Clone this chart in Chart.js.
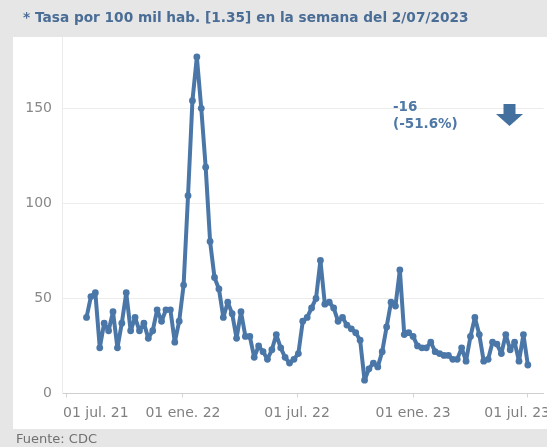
<!DOCTYPE html>
<html><head><meta charset="utf-8">
<script src="https://cdn.jsdelivr.net/npm/chart.js@4.4.1/dist/chart.umd.min.js"></script>
<style>html,body{margin:0;padding:0;background:#e6e6e6;} canvas{display:block}</style>
</head><body>
<canvas id="c" width="547" height="447"></canvas>
<script>
// ---- data ----
const firstWeek = '2021-08-01';
const rate = [
  40, 51, 53, 24, 37, 33, 43, 24, 37, 53,
  33, 40, 33, 37, 29, 33, 44, 38, 44, 44,
  27, 38, 57, 104, 154, 177, 150, 119, 80, 61,
  55, 40, 48, 42, 29, 43, 30, 30, 19, 25,
  22, 18, 23, 31, 24, 19, 16, 18, 21, 38,
  40, 45, 50, 70, 47, 48, 45, 38, 40, 36,
  34, 32, 28, 7, 13, 16, 14, 22, 35, 48,
  46, 65, 31, 32, 30, 25, 24, 24, 27, 22,
  21, 20, 20, 18, 18, 24, 17, 30, 40, 31,
  17, 18, 27, 26, 21, 31, 23, 27, 17, 31,
  15
];
const xTickDates = ['2021-07-01', '2022-01-01', '2022-07-01', '2023-01-01', '2023-07-01'];
const xTickLabels = ['01 jul. 21', '01 ene. 22', '01 jul. 22', '01 ene. 23', '01 jul. 23'];
const yTickValues = [0, 50, 100, 150];
const titleText = '* Tasa por 100 mil hab. [1.35] en la semana del 2/07/2023';
const sourceText = 'Fuente: CDC';
const changeLines = ['-16', '(-51.6%)'];

// ---- helpers ----
const DAY = 86400000;
const ORIGIN = Date.UTC(2021, 6, 1);
function dayOf(s) { const p = s.split('-').map(Number); return (Date.UTC(p[0], p[1] - 1, p[2]) - ORIGIN) / DAY; }
const weekDays = rate.map((_, i) => dayOf(firstWeek) + 7 * i);
const points = rate.map((v, i) => ({ x: weekDays[i], y: v }));

const FONT = '"DejaVu Sans", sans-serif';
const BLUE = '#4a77a8';

const decor = {
  id: 'decor',
  beforeDraw(chart) {
    const c = chart.ctx;
    c.save();
    c.fillStyle = '#e6e6e6';
    c.fillRect(0, 0, chart.width, chart.height);
    c.fillStyle = '#ffffff';
    c.fillRect(13, 37, chart.width - 13, 392);
    c.restore();
  },
  afterDraw(chart) {
    const c = chart.ctx;
    const xs = chart.scales.x;
    c.save();
    // title
    c.font = 'bold 13.7px ' + FONT;
    c.fillStyle = '#4a6d96';
    c.textBaseline = 'middle';
    c.textAlign = 'left';
    c.fillText(titleText, 23, 18);
    // source
    c.font = '13px ' + FONT;
    c.fillStyle = '#707070';
    c.fillText(sourceText, 16, 439.5);
    // x tick labels
    c.font = '14px ' + FONT;
    c.fillStyle = '#808080';
    xTickDates.forEach((d, i) => {
      const px = xs.getPixelForValue(dayOf(d));
      const w = c.measureText(xTickLabels[i]).width;
      let left = px - w / 2;
      left = Math.max(left, 63);
      left = Math.min(left, 550 - w);
      c.fillText(xTickLabels[i], left, 413);
    });
    // change annotation
    c.font = 'bold 13.5px ' + FONT;
    c.fillStyle = '#4f78a6';
    c.fillText(changeLines[0], 393, 107);
    c.fillText(changeLines[1], 393, 124);
    // arrow
    c.fillStyle = '#44709f';
    c.beginPath();
    c.moveTo(503.5, 104);
    c.lineTo(515.5, 104);
    c.lineTo(515.5, 114);
    c.lineTo(523, 114);
    c.lineTo(509.5, 126);
    c.lineTo(496, 114);
    c.lineTo(503.5, 114);
    c.closePath();
    c.fill();
    c.restore();
  }
};

new Chart(document.getElementById('c').getContext('2d'), {
  type: 'line',
  data: {
    datasets: [{
      data: points,
      borderColor: BLUE,
      backgroundColor: BLUE,
      borderWidth: 4,
      borderJoinStyle: 'round',
      borderCapStyle: 'round',
      pointRadius: 3.4,
      pointBorderWidth: 0,
      pointHoverRadius: 3.4,
      tension: 0
    }]
  },
  options: {
    responsive: false,
    animation: false,
    devicePixelRatio: 1,
    layout: { padding: { top: 37, left: 0, right: 0, bottom: 0 } },
    plugins: { legend: { display: false }, tooltip: { enabled: false }, title: { display: false } },
    scales: {
      x: {
        type: 'linear',
        min: -7.9,
        max: 756,
        afterBuildTicks: s => { s.ticks = xTickDates.map(d => ({ value: dayOf(d) })); },
        afterFit: s => { s.height = 53.5; },
        ticks: { display: false },
        grid: { display: true, drawOnChartArea: false, drawTicks: true, tickLength: 4, color: '#d4d4d4' },
        border: { display: true, color: '#cfcfcf', dash: [2, 2] }
      },
      y: {
        min: 0,
        max: 187.5,
        afterBuildTicks: s => { s.ticks = yTickValues.map(v => ({ value: v })); },
        afterFit: s => { s.width = 62; },
        ticks: { padding: 10, color: '#888888', font: { family: 'DejaVu Sans', size: 14 } },
        grid: { color: c => (c.tick && c.tick.value === 0) ? 'rgba(0,0,0,0)' : '#ececec', drawTicks: false },
        border: { display: true, color: '#ebebeb' }
      }
    }
  },
  plugins: [decor]
});
</script>
</body></html>
